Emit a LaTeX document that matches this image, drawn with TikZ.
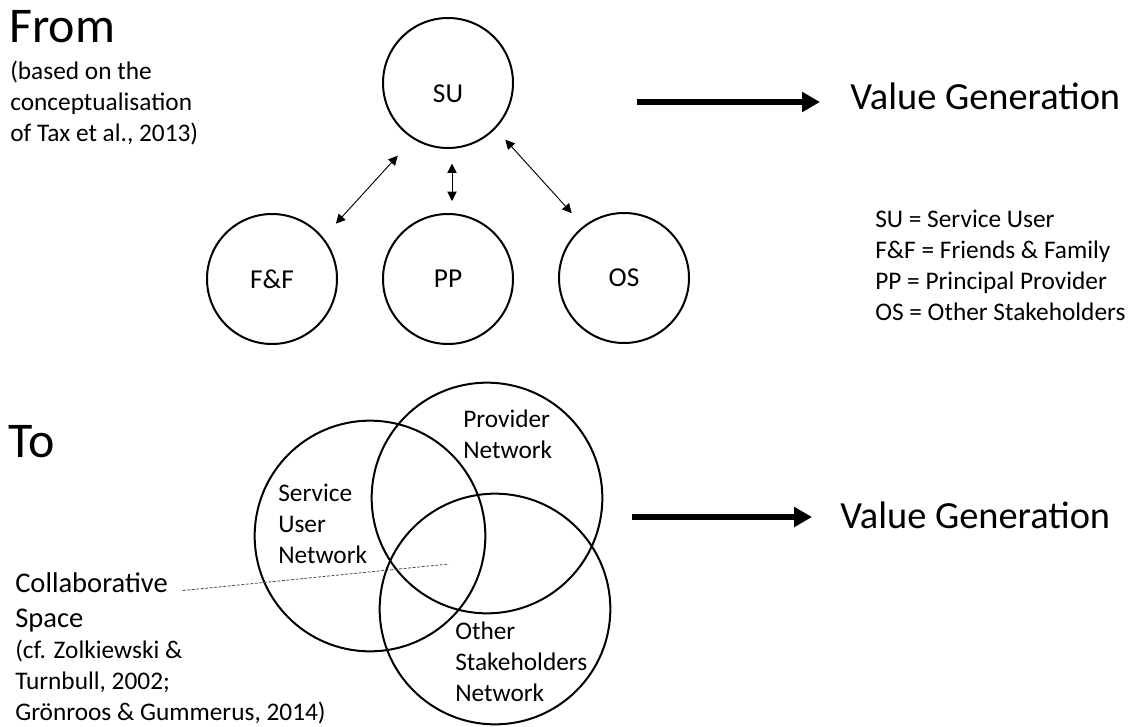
\documentclass[tikz,border=0pt]{standalone}
\usepackage{fontspec}
\setmainfont{Carlito}
\usetikzlibrary{arrows.meta,positioning}
\tikzset{
    bubble/.style={circle, draw, line width=1.5pt, minimum size=97.5pt, inner sep=0pt, font=\fontsize{20.5}{24}\selectfont},
    venn/.style={circle, draw, line width=1.5pt, minimum size=173pt, inner sep=0pt},
    title/.style={anchor=base west, inner sep=0pt, font=\fontsize{37.5}{45}\selectfont},
    note/.style={anchor=base west, inner sep=0pt, align=left, font=\fontsize{19}{23.25}\selectfont},
    result/.style={anchor=base west, inner sep=0pt, font=\fontsize{28.8}{34}\selectfont},
    link/.style={draw, line width=0.7pt, {Triangle[length=7pt,width=7pt]}-{Triangle[length=7pt,width=7pt]}},
    bigarrow/.style={draw, line width=5pt, -{Triangle[length=13.5pt,width=14.5pt]}},
    pointer/.style={draw, gray!60!black, line width=0.6pt, dash pattern=on 2.2pt off 1.2pt}
}

\begin{document}
\begin{tikzpicture}[x=0.75pt, y=-0.75pt]
    \useasboundingbox (0,0) rectangle (1141,727);

    % From: stakeholders around the service user
    \node[title] (from) at (9,43) {From};
    \node[note] (fromref) at (10,142) {(based on the\\conceptualisation\\of Tax et al., 2013)};
    \node[bubble] (su) at (448,83) {};
    \node[font=\fontsize{20.5}{24}\selectfont] (sulabel) at (448,94) {SU};
    \node[bubble] (ff) at (272,279) {F\&F};
    \node[bubble] (pp) at (448,279) {PP};
    \node[bubble] (os) at (624,278) {OS};

    \draw[link, shorten <=14pt, shorten >=17pt] (ff.39) -- (su.238);
    \draw[link, shorten <=11pt, shorten >=9pt] ([xshift=3pt]su.south) -- ([xshift=3pt]pp.north);
    \draw[link, shorten <=11pt, shorten >=13pt] (su.316) -- (os.128);

    % Value generation (top)
    \coordinate (fromstart) at (637,102);
    \node[result] (vgfrom) at (850,110) {Value Generation};
    \draw[bigarrow, shorten >=22.5pt] (fromstart) -- (fromstart -| vgfrom.west);

    % Legend
    \node[note] (legend) at (875,320) {SU = Service User\\F\&F = Friends \& Family\\PP = Principal Provider\\OS = Other Stakeholders};

    % To: overlapping networks
    \node[title] (to) at (8,457) {To};
    \node[venn] (sun) at (370,536) {};
    \node[venn] (pn) at (487,498) {};
    \node[venn] (osn) at (495,609) {};
    \node[note] (pnlabel) at (463,458) {Provider\\Network};
    \node[note] (sunlabel) at (278,563) {Service\\User\\Network};
    \node[note] (osnlabel) at (455,701) {Other\\Stakeholders\\Network};

    % Collaborative space
    \node[note, font=\fontsize{21.4}{26.25}\selectfont] (collab) at (15,627) {Collaborative\\Space};
    \node[note] (collabref) at (15,720) {(cf. Zolkiewski \&\\Turnbull, 2002;\\Grönroos \& Gummerus, 2014)};
    \coordinate (collabpt) at (449,564);
    \draw[pointer, shorten <=11pt] ([yshift=26.25pt]collab.base east) -- (collabpt);

    % Value generation (bottom)
    \coordinate (tostart) at (632,517);
    \node[result] (vgto) at (840,528) {Value Generation};
    \draw[bigarrow, shorten >=21pt] (tostart) -- (tostart -| vgto.west);
\end{tikzpicture}
\end{document}
